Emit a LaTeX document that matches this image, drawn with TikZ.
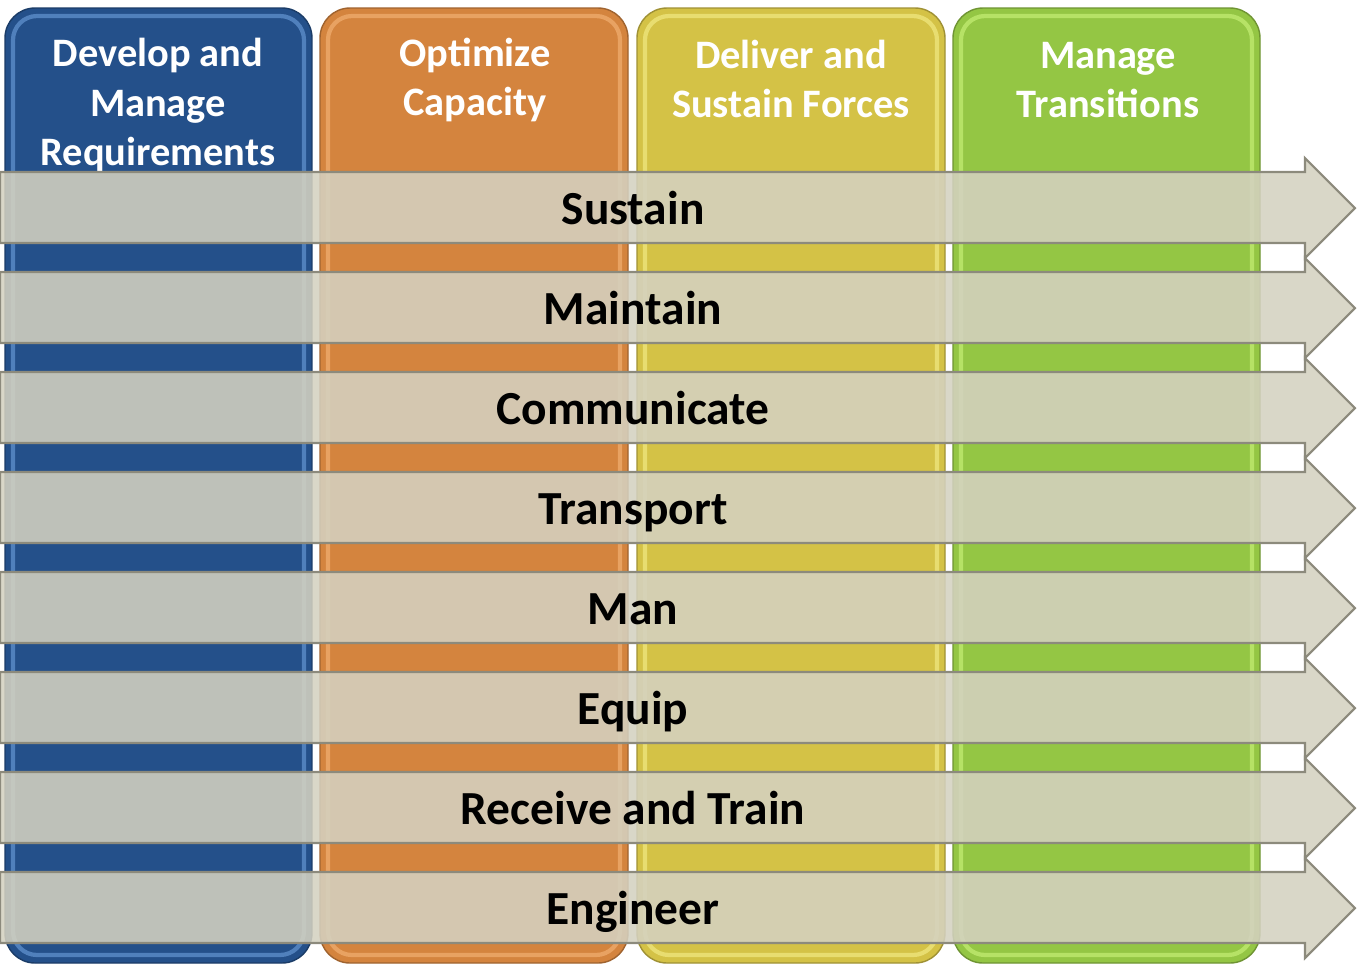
\documentclass[tikz,border=0pt]{standalone}
\usepackage{fontspec}
\setmainfont{Carlito}
\usetikzlibrary{positioning}

\definecolor{colblue}{RGB}{36,80,138}
\definecolor{colorange}{RGB}{212,132,62}
\definecolor{colyellow}{RGB}{212,194,70}
\definecolor{colgreen}{RGB}{148,198,68}
\definecolor{hlblue}{RGB}{110,160,222}
\definecolor{hlorange}{RGB}{246,182,122}
\definecolor{hlyellow}{RGB}{246,240,140}
\definecolor{hlgreen}{RGB}{206,246,126}
\definecolor{bandfill}{RGB}{212,209,192}
\definecolor{bandline}{RGB}{140,138,124}

\tikzset{
  column/.style={rounded corners=0.3cm, draw=#1!75!black, line width=0.4pt, fill=#1},
  colhl/.style={rounded corners=0.24cm, draw=#1, line width=1.2pt, draw opacity=0.6},
  header/.style={text=white, font=\bfseries\fontsize{11.5}{14.2}\selectfont, align=center},
  band/.style={fill=bandfill, fill opacity=0.88, draw=bandline, line width=0.6pt},
  rowlabel/.style={text=black, font=\bfseries\fontsize{13.5}{16}\selectfont, text height=0.7em, text depth=0.2em},
}

% one arrow band, #1 = row offset
\newcommand{\bandarrow}[1]{%
  \draw[band] (0,{-1.72-#1}) -- (13.05,{-1.72-#1}) -- (13.05,{-1.58-#1})
    -- (13.55,{-2.08-#1}) -- (13.05,{-2.58-#1}) -- (13.05,{-2.43-#1})
    -- (0,{-2.43-#1}) -- cycle;}

\begin{document}
\begin{tikzpicture}

	\useasboundingbox (0,0) rectangle (13.64,-9.66);

	\draw[column=colblue] (0.05,-0.08) rectangle (3.12,-9.63);
	\draw[column=colorange] (3.20,-0.08) rectangle (6.28,-9.63);
	\draw[column=colyellow] (6.37,-0.08) rectangle (9.45,-9.63);
	\draw[column=colgreen] (9.53,-0.08) rectangle (12.60,-9.63);

	\draw[colhl=hlblue] (0.13,-0.16) rectangle (3.04,-9.55);
	\draw[colhl=hlorange] (3.28,-0.16) rectangle (6.20,-9.55);
	\draw[colhl=hlyellow] (6.45,-0.16) rectangle (9.37,-9.55);
	\draw[colhl=hlgreen] (9.61,-0.16) rectangle (12.52,-9.55);

	\node[header] (hdev) at (1.58,-1.05) {Develop and\\Manage\\Requirements};
	\node[header] (hopt) at (4.75,-0.80) {Optimize\\Capacity};
	\node[header] (hdel) at (7.91,-0.79) {Deliver and\\Sustain Forces};
	\node[header] (hman) at (11.08,-0.80) {Manage\\Transitions};

	\bandarrow{0}
	\bandarrow{1}
	\bandarrow{2}
	\bandarrow{3}
	\bandarrow{4}
	\bandarrow{5}
	\bandarrow{6}
	\bandarrow{7}

	\node[rowlabel] (rsus) at (6.33,-2.16) {Sustain};
	\node[rowlabel] (rmai) at (6.33,-3.16) {Maintain};
	\node[rowlabel] (rcom) at (6.33,-4.16) {Communicate};
	\node[rowlabel] (rtra) at (6.33,-5.16) {Transport};
	\node[rowlabel] (rman) at (6.33,-6.16) {Man};
	\node[rowlabel] (requ) at (6.33,-7.16) {Equip};
	\node[rowlabel] (rrec) at (6.33,-8.16) {Receive and Train};
	\node[rowlabel] (reng) at (6.33,-9.16) {Engineer};

\end{tikzpicture}
\end{document}
